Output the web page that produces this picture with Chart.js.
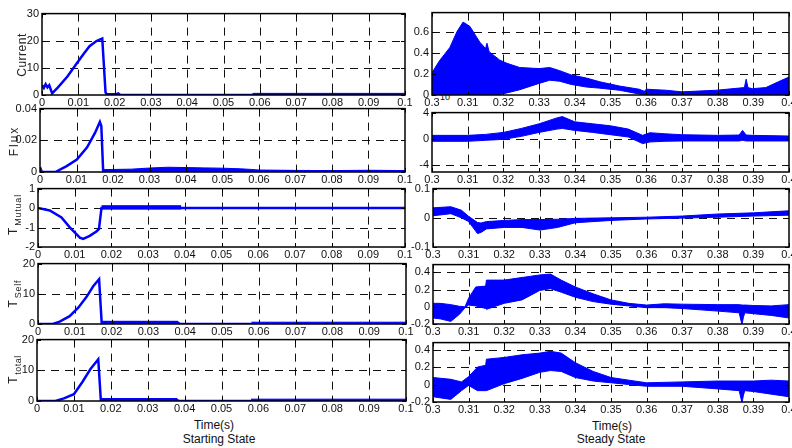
<!DOCTYPE html>
<html>
<head>
<meta charset="utf-8">
<script src="https://cdn.jsdelivr.net/npm/chart.js@4.4.0/dist/chart.umd.min.js"></script>
<style>
  body { margin: 0; background: #fff; width: 792px; height: 448px; position: relative; overflow: hidden;
         font-family: "Liberation Sans Narrow", "Liberation Sans", Arial, sans-serif; }
  .p { position: absolute; }
  .cap { position: absolute; font-size: 12px; color: #111; transform: translateX(-50%); white-space: nowrap; }
</style>
</head>
<body>
<div class="cap" style="left:214px;top:418px">Time(s)</div>
<div class="cap" style="left:219px;top:432px">Starting State</div>
<div class="cap" style="left:612px;top:419px">Time(s)</div>
<div class="cap" style="left:611px;top:432px">Steady State</div>
<div class="cap" style="left:445px;top:92px;font-size:9px">10</div>
<script>
// tick labels
const startTicks = [0, 0.01, 0.02, 0.03, 0.04, 0.05, 0.06, 0.07, 0.08, 0.09, 0.1];
const steadyTicks = [0.3, 0.31, 0.32, 0.33, 0.34, 0.35, 0.36, 0.37, 0.38, 0.39, 0.4];

// ---- starting state (left column), t in s ----
const curT = [0, 0.0005, 0.001, 0.0015, 0.002, 0.0028, 0.0044, 0.007, 0.0095, 0.0115, 0.0131, 0.015, 0.0162, 0.0166, 0.017, 0.0175, 0.0178, 0.0205, 0.021, 0.0215, 0.022, 0.1];
const curV = [3.6, 2.6, 4.0, 2.8, 3.6, 0.6, 2.8, 6.8, 11.5, 15.2, 18, 19.9, 20.6, 20.8, 12, 1, 0.3, 0.3, 0.6, 0.1, 0, 0];
const curNoiseT = [0.058, 0.1];
const curNoiseLo = [0, 0];
const curNoiseHi = [0.6, 0.6];

const fluxT = [0, 0.0005, 0.0042, 0.0073, 0.0101, 0.0129, 0.0151, 0.0164, 0.0168, 0.0173, 0.1];
const fluxV = [0.003, 0, 0, 0.0037, 0.0078, 0.0156, 0.0248, 0.0316, 0.029, 0.0008, 0.0003];
const fluxNoiseT = [0.0175, 0.025, 0.03, 0.035, 0.04, 0.045, 0.05, 0.055, 0.058, 0.06, 0.07, 0.08, 0.09, 0.1];
const fluxNoiseLo = [0, 0.0003, 0.0006, 0.0009, 0.0008, 0.0007, 0.0005, 0.0003, 0.0002, 0, 0, 0, 0, 0];
const fluxNoiseHi = [0.0015, 0.0018, 0.0025, 0.003, 0.0028, 0.0026, 0.0024, 0.002, 0.0016, 0.0012, 0.001, 0.0009, 0.0011, 0.0009];

const mutT = [0, 0.0032, 0.0064, 0.0086, 0.0114, 0.0123, 0.0141, 0.0159, 0.0166, 0.0173, 0.1];
const mutV = [0, -0.12, -0.48, -0.98, -1.52, -1.58, -1.43, -1.2, -1.08, 0, 0];
const mutNoiseT = [0.0173, 0.039];
const mutNoiseLo = [-0.05, -0.05];
const mutNoiseHi = [0.12, 0.12];

const selfT = [0, 0.004, 0.0059, 0.0086, 0.011, 0.0132, 0.015, 0.0166, 0.0173, 0.038, 0.0385, 0.1];
const selfV = [0, 0, 0.8, 2.6, 5.5, 9, 12.5, 14.8, 0.5, 0.5, 0, 0];
const selfNoiseT = [0.0173, 0.038];
const selfNoiseLo = [0.2, 0.2];
const selfNoiseHi = [0.9, 0.9];
const selfNoise2T = [0.058, 0.1];
const selfNoise2Lo = [0, 0];
const selfNoise2Hi = [0.6, 0.6];

const totT = [0, 0.005, 0.0073, 0.01, 0.0123, 0.0145, 0.0166, 0.0173, 0.038, 0.0385, 0.1];
const totV = [0, 0, 0.85, 2.2, 6.2, 10.4, 13.6, 0.3, 0.3, 0, 0];
const totNoiseT = [0.0173, 0.038];
const totNoiseLo = [0.1, 0.1];
const totNoiseHi = [0.8, 0.8];
const totNoise2T = [0.058, 0.1];
const totNoise2Lo = [0, 0];
const totNoise2Hi = [0.6, 0.6];

// ---- steady state (right column): envelope of the oscillating trace ----
const ssCurT = [0.300, 0.302, 0.305, 0.307, 0.3087, 0.3106, 0.3134, 0.315, 0.3154, 0.316, 0.319, 0.321, 0.3246, 0.330, 0.333, 0.3358, 0.339, 0.3433, 0.347, 0.3525, 0.358, 0.3595, 0.36, 0.3656, 0.37, 0.3796, 0.3875, 0.388, 0.3885, 0.3897, 0.3935, 0.397, 0.4];
const ssCurHi = [0.21, 0.32, 0.45, 0.6, 0.69, 0.65, 0.5, 0.44, 0.49, 0.41, 0.33, 0.3, 0.26, 0.25, 0.26, 0.23, 0.19, 0.16, 0.125, 0.085, 0.055, 0.035, 0.055, 0.045, 0.03, 0.045, 0.07, 0.15, 0.07, 0.06, 0.07, 0.125, 0.17];
const ssCurLo = [0, 0, 0, 0, 0, 0, 0, 0, 0, 0, 0.005, 0.02, 0.05, 0.11, 0.14, 0.13, 0.1, 0.075, 0.065, 0.045, 0.01, 0, 0.005, 0.003, 0, 0, 0, 0, 0, 0, 0, 0, 0];

const ssFluxT = [0.300, 0.31, 0.315, 0.32, 0.325, 0.33, 0.335, 0.3365, 0.34, 0.345, 0.35, 0.355, 0.359, 0.361, 0.365, 0.37, 0.38, 0.386, 0.387, 0.388, 0.39, 0.4];
const ssFluxHi = [0.55, 0.55, 0.7, 1.0, 1.6, 2.3, 3.2, 3.4, 2.6, 2.3, 2.0, 1.5, 0.55, 0.95, 0.8, 0.65, 0.55, 0.6, 1.3, 0.6, 0.55, 0.45];
const ssFluxLo = [-0.35, -0.35, -0.2, -0.05, 0.4, 1.0, 1.5, 1.6, 1.3, 1.0, 0.65, 0.3, -0.7, -0.45, -0.35, -0.3, -0.3, -0.3, -0.2, -0.3, -0.3, -0.3];

const ssMutT = [0.300, 0.305, 0.308, 0.31, 0.3125, 0.3135, 0.315, 0.32, 0.325, 0.33, 0.335, 0.34, 0.35, 0.36, 0.37, 0.38, 0.39, 0.4];
const ssMutHi = [0.034, 0.038, 0.026, 0.005, -0.016, -0.018, -0.013, -0.009, -0.006, -0.006, -0.005, -0.002, 0, 0.002, 0.006, 0.013, 0.017, 0.024];
const ssMutLo = [0.007, 0.014, 0, -0.013, -0.054, -0.05, -0.038, -0.033, -0.033, -0.042, -0.033, -0.017, -0.009, -0.004, -0.001, 0.002, 0.006, 0.009];

const ssSelfT = [0.300, 0.302, 0.305, 0.3075, 0.309, 0.31, 0.312, 0.3148, 0.315, 0.32, 0.325, 0.33, 0.333, 0.336, 0.34, 0.345, 0.35, 0.355, 0.36, 0.365, 0.37, 0.38, 0.386, 0.3868, 0.3872, 0.3876, 0.39, 0.395, 0.4];
const ssSelfHi = [0.04, 0.04, 0.025, 0.005, 0, 0.1, 0.23, 0.24, 0.31, 0.31, 0.34, 0.37, 0.38, 0.31, 0.23, 0.15, 0.08, 0.04, 0.02, 0.035, 0.03, 0.025, 0.025, 0.02, 0.02, 0.02, 0.015, 0.01, 0.025];
const ssSelfLo = [-0.13, -0.14, -0.17, -0.085, -0.01, 0.02, 0.01, -0.02, -0.03, 0.04, 0.08, 0.19, 0.21, 0.17, 0.11, 0.06, 0.03, 0.01, -0.01, -0.01, -0.02, -0.05, -0.07, -0.21, -0.12, -0.07, -0.08, -0.1, -0.13];

const ssTotT = [0.300, 0.305, 0.308, 0.31, 0.3125, 0.3148, 0.315, 0.32, 0.325, 0.33, 0.333, 0.336, 0.34, 0.345, 0.35, 0.355, 0.36, 0.37, 0.38, 0.386, 0.3868, 0.3872, 0.3876, 0.39, 0.395, 0.4];
const ssTotHi = [0.08, 0.06, 0.03, 0.09, 0.2, 0.22, 0.29, 0.31, 0.34, 0.36, 0.38, 0.36, 0.25, 0.15, 0.08, 0.05, 0.02, 0.03, 0.04, 0.04, 0.04, 0.04, 0.04, 0.04, 0.05, 0.04];
const ssTotLo = [-0.14, -0.17, -0.07, -0.01, -0.07, -0.07, -0.07, 0.01, 0.07, 0.14, 0.16, 0.15, 0.08, 0.04, 0.02, 0, -0.02, -0.02, -0.05, -0.07, -0.21, -0.12, -0.07, -0.08, -0.11, -0.14];

const blue = '#0000ff';
const FONT = '"Liberation Sans Narrow", "Liberation Sans", Arial, sans-serif';
Chart.defaults.font.family = FONT;
Chart.defaults.font.size = 11;
Chart.defaults.color = '#111';

const xy = (xs, ys) => xs.map((x, i) => ({ x: x, y: ys[i] }));
const fmt = v => String(+(+v).toFixed(4));

// box = [left, top, right, bottom] in page pixels
const panels = [
  { box: [42, 12, 405, 95], xr: [0, 0.1], xt: startTicks, yr: [0, 30], yt: [0, 10, 20, 30],
    label: { text: 'Current', sub: '', x: 23, y: 55, sp: '0.5px' },
    lines: [[curT, curV]], bands: [[curNoiseT, curNoiseLo, curNoiseHi]] },
  { box: [40, 107, 405, 172], xr: [0, 0.1], xt: startTicks, yr: [0, 0.04], yt: [0, 0.02, 0.04],
    label: { text: 'Flux', sub: '', x: 15, y: 141, sp: '2px' },
    lines: [[fluxT, fluxV]], bands: [[fluxNoiseT, fluxNoiseLo, fluxNoiseHi]] },
  { box: [38, 187, 405, 247], xr: [0, 0.1], xt: startTicks, yr: [-2, 1], yt: [-2, -1, 0, 1],
    label: { text: 'T', sub: 'Mutual', x: 14, y: 215, sp: '0.8px' },
    lines: [[mutT, mutV]], bands: [[mutNoiseT, mutNoiseLo, mutNoiseHi]] },
  { box: [38, 262, 406, 324], xr: [0, 0.1], xt: startTicks, yr: [0, 20], yt: [0, 10, 20],
    label: { text: 'T', sub: 'Self', x: 14, y: 294, sp: '0.8px' },
    lines: [[selfT, selfV]], bands: [[selfNoiseT, selfNoiseLo, selfNoiseHi], [selfNoise2T, selfNoise2Lo, selfNoise2Hi]] },
  { box: [37, 338, 406, 401], xr: [0, 0.1], xt: startTicks, yr: [0, 20], yt: [0, 10, 20],
    label: { text: 'T', sub: 'total', x: 14, y: 370, sp: '0.5px' },
    lines: [[totT, totV]], bands: [[totNoiseT, totNoiseLo, totNoiseHi], [totNoise2T, totNoise2Lo, totNoise2Hi]] },

  { box: [432, 11, 789, 95], xr: [0.3, 0.4], xt: steadyTicks, yr: [0, 0.78], yt: [0, 0.2, 0.4, 0.6],
    lines: [], bands: [[ssCurT, ssCurLo, ssCurHi]] },
  { box: [432, 111, 789, 172], xr: [0.3, 0.4], xt: steadyTicks, yr: [-5, 4], yt: [-4, -2, 0, 2, 4],
    lines: [], bands: [[ssFluxT, ssFluxLo, ssFluxHi]] },
  { box: [433, 187, 789, 247], xr: [0.3, 0.4], xt: steadyTicks, yr: [-0.1, 0.1], yt: [-0.1, 0, 0.1],
    lines: [], bands: [[ssMutT, ssMutLo, ssMutHi]] },
  { box: [433, 263, 789, 324], xr: [0.3, 0.4], xt: steadyTicks, yr: [-0.2, 0.49], yt: [-0.2, 0, 0.2, 0.4],
    lines: [], bands: [[ssSelfT, ssSelfLo, ssSelfHi]] },
  { box: [433, 341, 789, 402], xr: [0.3, 0.4], xt: steadyTicks, yr: [-0.2, 0.48], yt: [-0.2, 0, 0.2, 0.4],
    lines: [], bands: [[ssTotT, ssTotLo, ssTotHi]] }
];

// dashed grid, closed box with inward ticks, rotated y label with subscript
const frame = {
  id: 'frame',
  beforeDatasetsDraw(chart) {
    const { ctx, chartArea: a, scales: { x, y } } = chart;
    ctx.save();
    ctx.strokeStyle = '#111';
    ctx.lineWidth = 1;
    ctx.setLineDash([8, 6]);
    x.ticks.forEach(tk => {
      const px = Math.round(x.getPixelForValue(tk.value)) + 0.5;
      if (px < a.left + 2 || px > a.right - 2) return;
      ctx.beginPath(); ctx.moveTo(px, a.top); ctx.lineTo(px, a.bottom); ctx.stroke();
    });
    y.ticks.forEach(tk => {
      const py = Math.round(y.getPixelForValue(tk.value)) + 0.5;
      if (py < a.top + 2 || py > a.bottom - 2) return;
      ctx.beginPath(); ctx.moveTo(a.left, py); ctx.lineTo(a.right, py); ctx.stroke();
    });
    ctx.restore();
  },
  afterDatasetsDraw(chart, args, o) {
    const { ctx, chartArea: a, scales: { x, y } } = chart;
    ctx.save();
    ctx.strokeStyle = '#000';
    ctx.lineWidth = 1.5;
    ctx.strokeRect(a.left, a.top, a.right - a.left, a.bottom - a.top);
    ctx.lineWidth = 1;
    ctx.beginPath();
    x.ticks.forEach(tk => {
      const px = Math.round(x.getPixelForValue(tk.value)) + 0.5;
      ctx.moveTo(px, a.bottom); ctx.lineTo(px, a.bottom - 4);
      ctx.moveTo(px, a.top); ctx.lineTo(px, a.top + 4);
    });
    y.ticks.forEach(tk => {
      const py = Math.round(y.getPixelForValue(tk.value)) + 0.5;
      ctx.moveTo(a.left, py); ctx.lineTo(a.left + 4, py);
      ctx.moveTo(a.right, py); ctx.lineTo(a.right - 4, py);
    });
    ctx.stroke();
    ctx.restore();

    if (!o.label) return;
    const lb = o.label;
    ctx.save();
    ctx.translate(lb.x - o.ox, lb.y - o.oy);
    ctx.rotate(-Math.PI / 2);
    ctx.fillStyle = '#222';
    ctx.textBaseline = 'middle';
    ctx.textAlign = 'left';
    if ('letterSpacing' in ctx) ctx.letterSpacing = lb.sp;
    const mainFont = '12px ' + FONT, subFont = '9px ' + FONT;
    ctx.font = mainFont;
    const w1 = ctx.measureText(lb.text).width;
    let w2 = 0;
    if (lb.sub) { ctx.font = subFont; w2 = ctx.measureText(lb.sub).width; }
    const x0 = -(w1 + w2) / 2;
    ctx.font = mainFont;
    ctx.fillText(lb.text, x0, 0);
    if (lb.sub) { ctx.font = subFont; ctx.fillText(lb.sub, x0 + w1 + 1, 5); }
    ctx.restore();
  }
};

panels.forEach((p, i) => {
  const [l, t, r, b] = p.box;
  const right = i >= 5;
  const padL = right ? l - 408 : l;
  const padR = 12, padT = 8, padB = 16;
  const left = l - padL, top = t - padT;
  const w = r - l + padL + padR, h = b - t + padT + padB;

  const div = document.createElement('div');
  div.className = 'p';
  div.style.left = left + 'px';
  div.style.top = top + 'px';
  const cv = document.createElement('canvas');
  cv.width = w; cv.height = h;
  cv.style.width = w + 'px'; cv.style.height = h + 'px';
  div.appendChild(cv);
  document.body.appendChild(div);

  const datasets = [];
  p.bands.forEach(([bt, lo, hi]) => {
    datasets.push({ data: xy(bt, lo), borderColor: blue, borderWidth: 1, pointRadius: 0, fill: false });
    datasets.push({ data: xy(bt, hi), borderColor: blue, borderWidth: 1, pointRadius: 0, fill: '-1', backgroundColor: blue });
  });
  p.lines.forEach(([lt, lv]) => {
    datasets.push({ data: xy(lt, lv), borderColor: blue, borderWidth: 2.5, pointRadius: 0, fill: false });
  });

  new Chart(cv, {
    type: 'line',
    data: { datasets },
    plugins: [frame],
    options: {
      responsive: false,
      animation: false,
      layout: { padding: { left: 0, right: padR, top: padT, bottom: 0 } },
      plugins: {
        legend: { display: false },
        tooltip: { enabled: false },
        frame: { label: p.label, ox: left, oy: top }
      },
      scales: {
        x: {
          type: 'linear', min: p.xr[0], max: p.xr[1],
          grid: { display: false, drawTicks: false },
          border: { display: false },
          ticks: { autoSkip: false, maxRotation: 0, padding: 1, callback: fmt },
          afterBuildTicks: s => { s.ticks = p.xt.map(v => ({ value: v })); },
          afterFit: s => { s.height = padB; }
        },
        y: {
          type: 'linear', min: p.yr[0], max: p.yr[1],
          grid: { display: false, drawTicks: false },
          border: { display: false },
          ticks: { padding: 3, callback: fmt },
          afterBuildTicks: s => { s.ticks = p.yt.map(v => ({ value: v })); },
          afterFit: s => { s.width = padL; }
        }
      }
    }
  });
});
</script>
</body>
</html>
